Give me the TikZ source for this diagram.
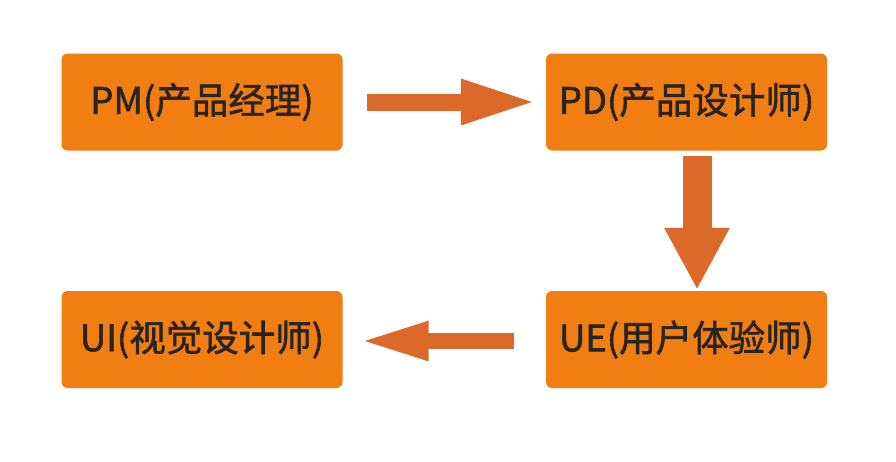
\documentclass[tikz,border=0pt]{standalone}
\usepackage{fontspec}
\setmainfont{Noto Sans CJK SC}[FakeBold=1.6]
\usetikzlibrary{arrows.meta,calc}
\definecolor{boxfill}{HTML}{F07E12}
\definecolor{arrowcol}{HTML}{DB6A2A}
\definecolor{txt}{HTML}{2A2420}
\begin{document}
\begin{tikzpicture}[x=1pt,y=-1pt,
  rolebox/.style={fill=boxfill,rounded corners=6pt,minimum width=281pt,minimum height=97pt,
    inner sep=0pt,text=txt,font=\fontsize{36.5}{40}\selectfont},
  bigarrow/.style={arrowcol,draw=arrowcol}]
\useasboundingbox (0,0) rectangle (896,461);
\fill[white] (0,0) rectangle (896,461);
\node[rolebox] (pm) at (202,102) {PM(产品经理)};
\node[rolebox] (pd) at (686.5,102) {PD(产品设计师)};
\node[rolebox] (ue) at (686.5,339.5) {UE(用户体验师)};
\node[rolebox] (ui) at (202,339.5) {UI(视觉设计师)};
\draw[bigarrow,line width=17pt,-{Triangle[length=77pt,width=41pt]},shorten <=24pt,shorten >=8pt]
  (pm.east) -- (pd.west);
\draw[bigarrow,line width=29pt,-{Triangle[length=62pt,width=61pt]},shorten <=5pt,shorten >=1pt]
  ($(pd.south)+(10.5,0)$) -- ($(ue.north)+(10.5,0)$);
\draw[bigarrow,line width=16pt,-{Triangle[length=71pt,width=35pt]},shorten <=32pt,shorten >=15pt]
  ($(ue.west)+(0,1.5)$) -- ($(ui.east)+(0,1.5)$);
\end{tikzpicture}
\end{document}
